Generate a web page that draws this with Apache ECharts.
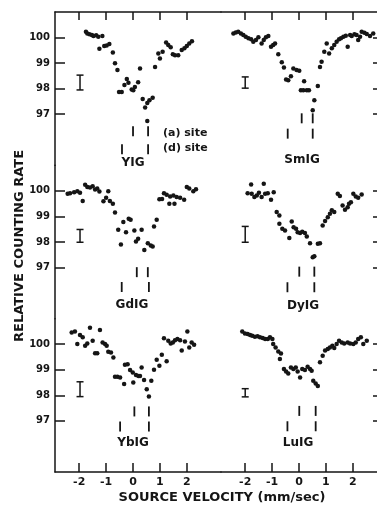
<!DOCTYPE html>
<html>
<head>
<meta charset="utf-8">
<script src="https://cdn.jsdelivr.net/npm/echarts@6/dist/echarts.min.js"></script>
<style>
html, body { margin: 0; padding: 0; background: #fff; }
#chart { width: 377px; height: 505px; }
</style>
</head>
<body>
<div id="chart"></div>
<script>
// velocities (mm/sec) and relative counting rates (%)
const yigVel = [-1.75,-1.70,-1.62,-1.53,-1.47,-1.37,-1.29,-1.14,-1.25,-1.07,-0.98,-0.88,-0.75,-0.67,-0.58,-0.52,-0.42,-0.32,-0.23,-0.17,-0.05,0.01,0.07,0.19,0.26,0.36,0.45,0.53,0.61,0.73,0.53,0.82,0.94,1.00,1.10,1.23,1.31,1.40,1.48,1.56,1.68,1.81,1.91,2.00,2.09,2.19];
const yigRate = [100.23,100.16,100.13,100.10,100.06,100.09,100.03,100.06,99.56,99.67,99.69,99.75,99.42,98.99,98.73,97.87,97.87,98.14,98.38,98.23,97.97,97.94,98.07,98.25,98.79,97.60,97.26,97.44,97.55,97.64,96.73,98.85,99.38,99.18,99.44,99.81,99.71,99.62,99.35,99.31,99.31,99.51,99.58,99.67,99.77,99.86];

const smigVel = [-2.44,-2.35,-2.26,-2.16,-2.07,-1.98,-1.88,-1.78,-1.70,-1.60,-1.51,-1.39,-1.31,-1.23,-1.14,-1.04,-0.96,-0.89,-0.77,-0.64,-0.56,-0.48,-0.40,-0.30,-0.21,-0.09,0.01,0.07,0.16,0.29,0.37,0.19,0.57,0.51,0.70,0.78,0.84,0.94,1.03,1.12,1.22,1.31,1.40,1.49,1.56,1.65,1.74,1.81,1.90,1.96,2.06,2.14,2.20,2.27,2.33,2.43,2.52,2.64,2.76];
const smigRate = [100.16,100.20,100.23,100.16,100.10,100.03,99.97,99.93,99.84,99.90,100.01,99.77,99.90,100.01,100.06,99.64,99.71,99.77,99.35,99.03,98.83,98.36,98.33,98.49,98.79,98.73,98.70,97.94,97.94,97.94,97.94,98.29,97.55,97.16,98.10,98.85,99.05,99.44,99.77,99.38,99.58,99.71,99.84,99.93,99.97,100.03,100.07,99.64,100.10,100.06,100.13,100.10,99.90,100.03,100.23,100.19,100.14,100.06,100.16];

const gdigVel = [-2.43,-2.34,-2.19,-2.07,-1.97,-1.87,-1.78,-1.70,-1.60,-1.50,-1.41,-1.33,-1.25,-1.10,-1.00,-0.92,-0.86,-0.75,-0.67,-0.55,-0.45,-0.36,-0.26,-0.16,-0.09,0.05,0.11,0.19,0.32,0.42,0.55,0.66,0.73,0.78,0.88,0.98,1.08,1.15,1.25,1.35,1.38,1.50,1.54,1.62,1.75,1.90,2.00,2.09,2.24,2.34];
const gdigRate = [99.89,99.91,99.95,99.99,99.93,99.60,100.24,100.15,100.13,100.18,100.05,100.09,99.98,99.59,99.73,99.99,99.60,99.50,99.15,98.48,97.90,98.78,98.38,98.91,98.87,98.45,98.02,98.13,98.48,97.69,97.95,97.86,97.82,98.61,98.87,99.67,99.68,99.91,99.85,99.50,99.78,99.82,99.50,99.76,99.73,99.65,100.15,100.09,99.99,100.06];

const dyigVel = [-1.78,-1.31,-1.91,-1.76,-1.66,-1.57,-1.49,-1.39,-1.26,-1.16,-1.04,-0.94,-0.83,-0.73,-0.73,-0.62,-0.52,-0.36,-0.27,-0.20,-0.11,-0.05,0.04,0.12,0.22,0.29,0.41,0.51,0.57,0.70,0.78,0.88,0.97,1.07,1.15,1.22,1.31,1.44,1.52,1.62,1.71,1.81,1.86,1.93,2.02,2.11,2.20,2.33];
const dyigRate = [100.25,100.28,99.91,99.89,99.76,99.82,99.93,99.76,99.89,99.91,99.65,99.95,99.17,99.04,98.71,98.52,98.45,98.16,98.80,98.58,98.52,98.38,98.35,98.40,98.35,98.22,97.95,97.40,97.44,97.93,97.95,98.65,98.82,98.97,99.11,99.24,99.17,99.89,99.80,99.43,99.26,99.36,99.50,99.56,99.89,99.78,99.73,99.86];

const ybigVel = [-2.28,-2.16,-2.07,-1.97,-1.87,-1.78,-1.70,-1.60,-1.50,-1.41,-1.33,-1.23,-1.13,-1.04,-0.98,-0.92,-0.82,-0.73,-0.67,-0.58,-0.48,-0.33,-0.30,-0.20,-0.11,-0.01,0.01,0.11,0.20,0.26,0.32,0.41,0.51,0.59,0.68,0.78,0.88,0.98,1.07,1.15,1.25,1.31,1.40,1.48,1.56,1.65,1.75,1.81,1.93,2.02,2.09,2.18,2.27];
const ybigRate = [100.46,100.50,100.01,100.36,100.27,99.94,100.03,100.64,100.14,99.65,99.65,100.56,100.07,100.01,99.94,99.71,99.68,99.48,98.73,98.73,98.70,98.44,99.20,99.22,98.99,98.89,98.50,98.80,98.76,98.76,99.09,98.60,98.24,97.95,98.57,99.00,99.39,99.16,99.59,100.23,99.33,100.14,100.03,100.07,100.16,100.20,100.16,99.75,100.11,100.50,99.87,100.07,99.98];

const luigVel = [-2.11,-2.01,-1.91,-1.82,-1.74,-1.64,-1.54,-1.45,-1.35,-1.26,-1.16,-1.08,-0.99,-0.96,-0.87,-0.77,-0.67,-0.71,-0.56,-0.48,-0.40,-0.30,-0.21,-0.12,-0.05,0.04,0.12,0.22,0.32,0.41,0.47,0.53,0.62,0.70,0.78,0.88,0.97,1.07,1.15,1.24,1.31,1.40,1.49,1.59,1.68,1.81,1.90,2.02,2.11,2.20,2.30,2.39,2.52];
const luigRate = [100.50,100.42,100.40,100.36,100.33,100.29,100.31,100.27,100.24,100.20,100.20,100.27,100.20,100.01,99.87,99.72,99.64,99.42,99.03,98.93,98.85,99.09,99.03,99.09,98.93,98.70,99.03,98.99,99.12,99.03,98.96,98.57,98.46,98.37,99.29,99.55,99.75,99.81,99.87,99.94,99.85,100.01,100.14,100.07,100.03,100.07,100.03,100.01,100.07,100.20,100.27,100.01,100.14];

// site line positions (mm/sec)
const yigASite = [0.00, 0.56], yigDSite = [-0.41, 0.56];
const smigASite = [0.10, 0.51], smigDSite = [-0.42, 0.51];
const gdigASite = [0.14, 0.55], gdigDSite = [-0.42, 0.59];
const dyigASite = [0.01, 0.57], dyigDSite = [-0.43, 0.57];
const ybigASite = [0.05, 0.59], ybigDSite = [-0.48, 0.59];
const luigASite = [0.01, 0.62], luigDSite = [-0.43, 0.62];

// typical error bar: [velocity, rate, half height]
const yigErr = [-1.97, 98.24, 0.29];
const smigErr = [-2.0, 98.24, 0.22];
const gdigErr = [-1.97, 98.24, 0.25];
const dyigErr = [-2.0, 98.30, 0.31];
const ybigErr = [-1.97, 98.24, 0.29];
const luigErr = [-2.0, 98.10, 0.16];

const xTicks = [-2, -1, 0, 1, 2];
const yTicks = [97, 98, 99, 100];

const panels = [
    {name: "YIG", vel: yigVel, rate: yigRate, a: yigASite, d: yigDSite, siteY: [96.33, 95.63], err: yigErr, label: [133, 163]},
    {name: "SmIG", vel: smigVel, rate: smigRate, a: smigASite, d: smigDSite, siteY: [96.84, 96.24], err: smigErr, label: [302, 160]},
    {name: "GdIG", vel: gdigVel, rate: gdigRate, a: gdigASite, d: gdigDSite, siteY: [96.82, 96.24], err: gdigErr, label: [132, 305]},
    {name: "DyIG", vel: dyigVel, rate: dyigRate, a: dyigASite, d: dyigDSite, siteY: [96.84, 96.23], err: dyigErr, label: [303, 306]},
    {name: "YbIG", vel: ybigVel, rate: ybigRate, a: ybigASite, d: ybigDSite, siteY: [97.37, 96.78], err: ybigErr, label: [133, 443]},
    {name: "LuIG", vel: luigVel, rate: luigRate, a: luigASite, d: luigDSite, siteY: [97.39, 96.79], err: luigErr, label: [298, 443]}
];

const ink = "#151515";
const font = "DejaVu Sans";
const rowH = 460 / 3;

let grids = [], xAxes = [], yAxes = [], series = [], texts = [];

panels.forEach(function (p, i) {
    let col = i % 2;
    let row = Math.floor(i / 2);

    grids.push({left: col ? 221 : 55, width: col ? 156 : 166, top: 12 + row * rowH, height: rowH});

    xAxes.push({
        gridIndex: i, type: 'value', min: -2.9, max: col ? 2.9 : 3.27,
        show: row !== 1,
        position: row === 0 ? 'top' : 'bottom',
        axisLine: {show: true, onZero: false, lineStyle: {color: ink, width: 1.5}},
        axisTick: {show: true, inside: true, length: row === 0 ? 8 : 9, customValues: xTicks, lineStyle: {color: ink, width: 1.5}},
        axisLabel: {show: row === 2, customValues: xTicks, color: ink, fontFamily: font, fontWeight: 'bold', fontSize: 11, margin: 5},
        splitLine: {show: false}
    });

    yAxes.push({
        gridIndex: i, type: 'value', min: 95, max: 101,
        position: col ? 'right' : 'left',
        axisLine: {show: col === 0, onZero: false, lineStyle: {color: ink, width: 1.5}},
        axisTick: {show: true, inside: true, length: col ? 4 : 10, customValues: yTicks, lineStyle: {color: ink, width: 1.5}},
        axisLabel: {show: col === 0, customValues: yTicks, color: ink, fontFamily: font, fontWeight: 'bold', fontSize: 10, margin: 5},
        splitLine: {show: false}
    });

    series.push({
        type: 'scatter', xAxisIndex: i, yAxisIndex: i,
        symbolSize: 4.5, itemStyle: {color: ink, opacity: 1},
        data: p.vel.map((v, k) => [v, p.rate[k]])
    });

    series.push({
        type: 'scatter', xAxisIndex: i, yAxisIndex: i,
        symbol: 'rect', symbolSize: [1.8, 10], itemStyle: {color: ink, opacity: 1},
        data: p.a.map(v => [v, p.siteY[0]]).concat(p.d.map(v => [v, p.siteY[1]]))
    });

    series.push({
        type: 'custom', xAxisIndex: i, yAxisIndex: i,
        data: [p.err],
        renderItem: function (params, api) {
            let x = api.value(0), y = api.value(1), h = api.value(2);
            let top = api.coord([x, y + h]);
            let bot = api.coord([x, y - h]);
            let w = 3.5;
            let st = {stroke: ink, lineWidth: 1.5};
            return {type: 'group', children: [
                {type: 'line', shape: {x1: top[0], y1: top[1], x2: bot[0], y2: bot[1]}, style: st},
                {type: 'line', shape: {x1: top[0] - w, y1: top[1], x2: top[0] + w, y2: top[1]}, style: st},
                {type: 'line', shape: {x1: bot[0] - w, y1: bot[1], x2: bot[0] + w, y2: bot[1]}, style: st}
            ]};
        }
    });

    texts.push({
        type: 'text', x: p.label[0], y: p.label[1],
        style: {text: p.name, fill: ink, font: 'bold 12px "DejaVu Sans"', textAlign: 'center', textVerticalAlign: 'middle'}
    });
});

texts.push({type: 'text', x: 163, y: 133, style: {text: '(a) site', fill: ink, font: 'bold 11px "DejaVu Sans"', textAlign: 'left', textVerticalAlign: 'middle'}});
texts.push({type: 'text', x: 163, y: 148, style: {text: '(d) site', fill: ink, font: 'bold 11px "DejaVu Sans"', textAlign: 'left', textVerticalAlign: 'middle'}});
texts.push({type: 'text', x: 222, y: 498, style: {text: 'SOURCE VELOCITY (mm/sec)', fill: ink, font: 'bold 13px "DejaVu Sans"', textAlign: 'center', textVerticalAlign: 'middle'}});
texts.push({type: 'text', x: 20, y: 246, rotation: Math.PI / 2, style: {text: 'RELATIVE COUNTING RATE', fill: ink, font: 'bold 13px "DejaVu Sans"', textAlign: 'center', textVerticalAlign: 'middle'}});

let chart = echarts.init(document.getElementById('chart'));
chart.setOption({
    animation: false,
    backgroundColor: '#fff',
    grid: grids,
    xAxis: xAxes,
    yAxis: yAxes,
    series: series,
    graphic: texts
});
</script>
</body>
</html>
